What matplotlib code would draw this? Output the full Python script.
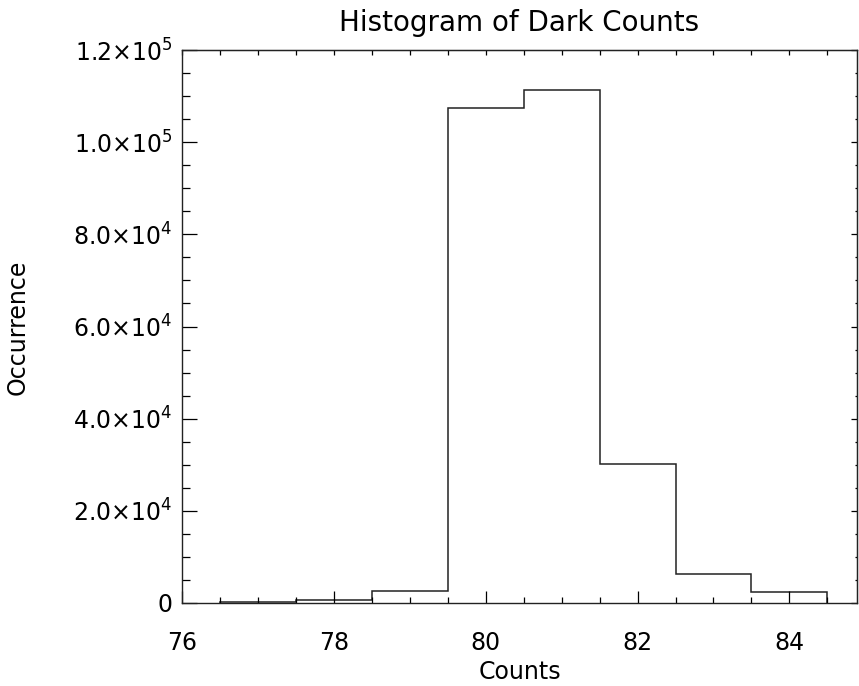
import matplotlib

matplotlib.use("Agg")
import matplotlib.pyplot as plt
import numpy as np
from matplotlib.ticker import MultipleLocator, NullFormatter

# Histogram bins (centers) and occurrences
bin_centers = [77, 78, 79, 80, 81, 82, 83, 84]
occurrence = [200, 600, 2600, 107400, 111400, 30200, 6300, 2300]

x_ticks = [76, 78, 80, 82, 84]
y_ticks = [0, 20000, 40000, 60000, 80000, 100000, 120000]
y_tick_labels = ["0",
                 r"2.0$\times$10$^4$", r"4.0$\times$10$^4$", r"6.0$\times$10$^4$",
                 r"8.0$\times$10$^4$", r"1.0$\times$10$^5$", r"1.2$\times$10$^5$"]

plt.rcParams["font.family"] = ["DejaVu Sans"]
plt.rcParams["mathtext.fontset"] = "dejavusans"

fig = plt.figure(figsize=(8.59, 6.86), dpi=100)
ax = fig.add_axes([182 / 859, 1 - 603 / 686, 675 / 859, 553 / 686])

centers = np.array(bin_centers, dtype=float)
edges = np.append(centers - 0.5, centers[-1] + 0.5)
ax.stairs(occurrence, edges, color="#222222", lw=1.1)

ax.set_xlim(76, 84.89)
ax.set_ylim(0, 120000)
ax.set_xticks(x_ticks)
ax.set_xticklabels([str(t) for t in x_ticks])
ax.xaxis.set_minor_locator(MultipleLocator(0.5))
ax.set_yticks(y_ticks)
ax.set_yticklabels(y_tick_labels)
ax.yaxis.set_minor_locator(MultipleLocator(5000))

ax.tick_params(axis="x", which="major", direction="in", length=8.4, width=0.9,
               labelsize=17, pad=20)
ax.tick_params(axis="x", which="minor", direction="in", length=4.1, width=0.9)
ax.tick_params(axis="y", which="major", direction="in", length=10.6, width=0.9,
               labelsize=17, pad=7)
ax.tick_params(axis="y", which="minor", direction="in", length=5.8, width=0.9)

for s in ax.spines.values():
    s.set_linewidth(1.0)
    s.set_color("#222222")

# top and right axes: shorter ticks, no labels
top = ax.secondary_xaxis("top")
top.set_xticks(x_ticks)
top.xaxis.set_minor_locator(MultipleLocator(0.5))
top.tick_params(which="both", direction="in", length=3.6, width=0.9, labeltop=False)
top.xaxis.set_major_formatter(NullFormatter())

right = ax.secondary_yaxis("right")
right.set_yticks(y_ticks)
right.yaxis.set_minor_locator(MultipleLocator(5000))
right.tick_params(which="major", direction="in", length=4.3, width=0.9, labelright=False)
right.tick_params(which="minor", direction="in", length=1.2, width=0.9)
right.yaxis.set_major_formatter(NullFormatter())

ax.set_title("Histogram of Dark Counts", fontsize=20, pad=14)
ax.set_xlabel("Counts", fontsize=17, labelpad=4)
fig.text(18 / 859, 1 - 327 / 686, "Occurrence", rotation=90, fontsize=17,
         ha="center", va="center")

fig.savefig("out.png", dpi=100)
